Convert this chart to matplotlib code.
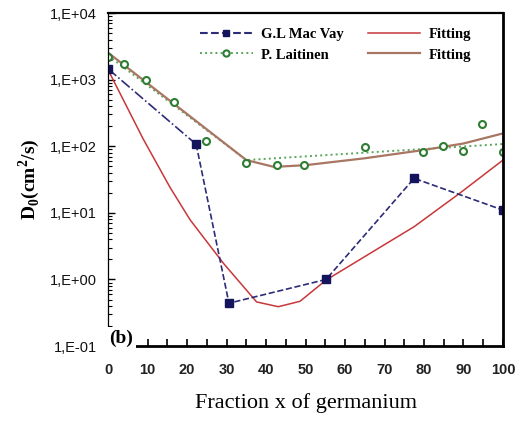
"""
Coefficient de diffusion D0 en fonction de la fraction de germanium
"""
import matplotlib.pyplot as plt
from matplotlib.lines import Line2D
from matplotlib.ticker import LogLocator, MultipleLocator, NullFormatter

# G.L Mac Vay (carres)
x_macvay = [0, 22.3, 30.6, 55.2, 77.5, 100]
y_macvay = [1450, 107, 0.44, 1.0, 33, 11]

# P. Laitinen (cercles)
x_laitinen = [0, 3.9, 9.6, 16.6, 24.7, 34.9, 42.7, 49.6, 65, 79.8, 84.7, 89.8, 94.8, 100]
y_laitinen = [2160, 1730, 990, 460, 120, 56, 52, 52, 96, 83, 100, 85, 215, 83]

# ajuste lineal por tramos de Laitinen (punteado verde)
x_fit_lait = [0, 35, 100]
y_fit_lait = [2300, 62, 108]

# Fitting rojo
x_fit_rojo = [0, 8.9, 15.7, 20.8, 29.2, 37.6, 43.1, 48.6, 55.2, 77.5, 89, 100]
y_fit_rojo = [1400, 128, 24, 7.8, 1.75, 0.46, 0.39, 0.47, 0.98, 6.2, 19.6, 62]

# Fitting marron
x_fit_marron = [0, 35, 42, 50, 65, 80, 90, 100]
y_fit_marron = [2540, 62, 49, 52, 66, 88, 110, 156]

y_ticks = [1e-1, 1e0, 1e1, 1e2, 1e3, 1e4]
y_tick_labels = ["1,E-01", "1,E+00", "1,E+01", "1,E+02", "1,E+03", "1,E+04"]

NAVY = "#14145c"
NAVY_LINE = "#2c2c78"
GREEN = "#2e7d32"
GREEN_LINE = "#5aa55a"
RED = "#c8373a"
BROWN = "#a87663"

plt.rcParams["mathtext.fontset"] = "custom"
plt.rcParams["mathtext.rm"] = "Liberation Serif"
plt.rcParams["mathtext.bf"] = "Liberation Serif:bold"

fig = plt.figure(figsize=(5.3, 4.21), dpi=100)
ax = fig.add_axes([0.204, 0.178, 0.745, 0.791])

ax.plot(x_fit_lait, y_fit_lait, ":", color=GREEN_LINE, lw=1.4)
ax.plot(x_fit_marron, y_fit_marron, "-", color=BROWN, lw=1.6)
ax.plot(x_fit_rojo, y_fit_rojo, "-", color=RED, lw=1.1)
# primer tramo en raya-punto, el resto en rayas
ax.plot(x_macvay[:2], y_macvay[:2], "-.", color=NAVY_LINE, lw=1.2)
ax.plot(x_macvay[1:], y_macvay[1:], "--", color=NAVY_LINE, lw=1.2)
ax.plot(x_macvay, y_macvay, "none", marker="s", ms=5.5, mfc=NAVY, mec=NAVY)
ax.plot(x_laitinen, y_laitinen, "none", marker="o", ms=5,
        mfc="white", mec=GREEN, mew=1.5)

ax.set_yscale("log")
ax.set_ylim(1e-1, 1e4)
ax.set_xlim(0, 100)
ax.set_yticks(y_ticks)
ax.set_yticklabels(y_tick_labels)
ax.yaxis.set_minor_locator(LogLocator(base=10, subs=range(2, 10)))
ax.yaxis.set_minor_formatter(NullFormatter())
ax.xaxis.set_major_locator(MultipleLocator(10))
ax.xaxis.set_minor_locator(MultipleLocator(5))

ax.tick_params(axis="y", which="major", direction="in", length=5, width=1,
               labelsize=10.5, pad=8)
ax.tick_params(axis="y", which="minor", direction="in", length=3, width=0.8)
ax.tick_params(axis="x", which="both", direction="in", length=5, width=1.2,
               labelsize=10.5, pad=12)
for lab in ax.get_yticklabels():
    lab.set_fontfamily("Liberation Sans")
    lab.set_color("#111111")
for lab in ax.get_xticklabels():
    lab.set_fontfamily("Liberation Sans")
    lab.set_fontweight("bold")
    lab.set_color("#222222")

ax.spines["left"].set_linewidth(0.9)
ax.spines["top"].set_linewidth(1.6)
ax.spines["right"].set_linewidth(2.0)
ax.spines["bottom"].set_linewidth(2.0)

ax.set_xlabel("Fraction x of germanium", fontfamily="Liberation Serif",
              fontsize=16, labelpad=12)
ax.set_ylabel(r"D$_\mathbf{0}$(cm$^\mathbf{2}$/s)", fontfamily="Liberation Serif",
              fontsize=14, fontweight="bold", labelpad=6)

ax.text(0.3, 0.13, "(b)", fontfamily="Liberation Serif", fontsize=14,
        fontweight="bold", va="center", ha="left",
        bbox=dict(facecolor="white", edgecolor="none", pad=2.0), zorder=5)

handles = [
    Line2D([], [], ls="--", color=NAVY_LINE, marker="s", ms=5, mfc=NAVY, mec=NAVY),
    Line2D([], [], ls=":", color=GREEN_LINE, lw=1.4, marker="o", ms=4.5,
           mfc="white", mec=GREEN, mew=1.5),
    Line2D([], [], ls="-", color=RED, lw=1.1),
    Line2D([], [], ls="-", color=BROWN, lw=1.6),
]
labels = ["G.L Mac Vay", "P. Laitinen", "Fitting", "Fitting"]
ax.legend(handles, labels, ncol=2, loc="upper left", bbox_to_anchor=(0.2, 0.995),
          frameon=False, prop={"family": "Liberation Serif", "weight": "bold",
                               "size": 10.5},
          handlelength=3.6, columnspacing=1.6, labelspacing=0.5, handletextpad=0.6)

plt.savefig("out.png", dpi=100)
